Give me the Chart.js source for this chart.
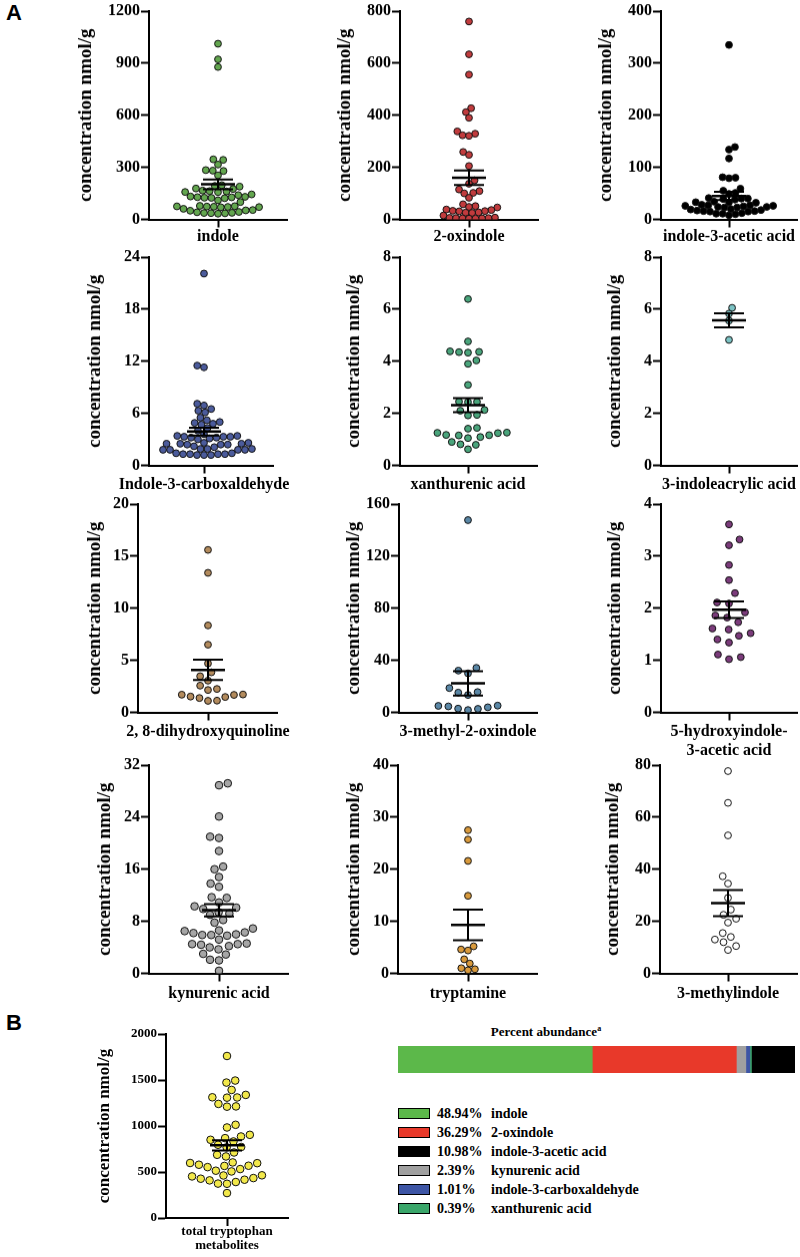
<!DOCTYPE html>
<html>
<head>
<meta charset="utf-8">
<script src="https://cdn.jsdelivr.net/npm/chart.js@4.4.0/dist/chart.umd.min.js"></script>
<style>
  body { margin: 0; width: 800px; height: 1257px; background: #fff; position: relative; overflow: hidden; font-family: "Liberation Serif", serif; }
  canvas { position: absolute; }
  .letter { position: absolute; font: bold 22px "Liberation Sans", sans-serif; }
  #abTitle { position: absolute; left: 398px; width: 296px; top: 1024px; text-align: center; font: bold 13px "Liberation Serif", serif; }
  #abTitle sup { font-size: 8px; }
  .lg { position: absolute; left: 398px; height: 14px; font: bold 14px "Liberation Serif", serif; line-height: 14px; white-space: nowrap; }
  .lg i { display: inline-block; width: 32px; height: 11px; border: 1px solid #000; box-sizing: border-box; vertical-align: -1px; margin-right: 7px; }
  .lg b { display: inline-block; width: 54px; }
</style>
</head>
<body>
<div class="letter" style="left:6px;top:0px">A</div>
<div class="letter" style="left:6px;top:1010px">B</div>
<div id="abTitle">Percent abundance<sup>a</sup></div>

<script>
// ---- data (nmol/g) ----
const names = ['indole', '2-oxindole', 'indole-3-acetic acid', 'Indole-3-carboxaldehyde', 'xanthurenic acid',
  '3-indoleacrylic acid', '2, 8-dihydroxyquinoline', '3-methyl-2-oxindole', ['5-hydroxyindole-', '3-acetic acid'],
  'kynurenic acid', 'tryptamine', '3-methylindole', ['total tryptophan', 'metabolites']];

const indole = [1012, 922, 878, 346, 343, 316, 284, 281, 279, 254, 197, 193, 189, 178, 175, 166, 163, 161, 158, 157,
  144, 140, 132, 130, 128, 127, 125, 124, 122, 110, 100, 78, 76, 75, 74, 73, 72, 71, 70, 61, 54, 52, 50, 43, 41, 38, 37, 36, 35, 33];
const oxindole = [760, 634, 556, 427, 412, 390, 338, 329, 323, 321, 259, 248, 205, 150, 137, 115, 109, 102, 100, 83,
  58, 51, 48, 46, 38, 36, 33, 32, 31, 27, 26, 25, 15, 7, 6, 5, 5, 4, 4, 3, 3];
const indoleAceticAcid = [335, 139, 134, 117, 81, 80, 79, 59, 55, 51, 49, 41, 40, 40, 39, 38, 34, 33, 33, 32, 28, 27, 27,
  26, 26, 25, 24, 24, 23, 23, 20, 19, 18, 17, 16, 16, 15, 15, 12, 11, 11, 10, 8];
const carboxaldehyde = [22.1, 11.5, 11.3, 7.1, 6.9, 6.5, 6.3, 6.1, 5.5, 5.2, 5.0, 4.9, 4.8, 4.7, 4.3, 4.0, 3.6, 3.4, 3.4,
  3.3, 3.3, 3.3, 3.2, 3.2, 3.1, 3.0, 2.6, 2.6, 2.5, 2.5, 2.5, 2.4, 2.4, 2.4, 2.2, 2.1, 1.9, 1.9, 1.9, 1.8, 1.8, 1.8, 1.8,
  1.4, 1.4, 1.3, 1.3, 1.3, 1.3, 1.2, 1.2, 1.2];
const xanthurenic = [6.39, 4.76, 4.38, 4.36, 4.35, 4.33, 4.03, 3.90, 3.09, 2.45, 2.44, 2.43, 2.13, 2.10, 1.94, 1.92, 1.44,
  1.41, 1.26, 1.25, 1.24, 1.17, 1.16, 1.15, 1.09, 1.05, 0.90, 0.81, 0.79, 0.62];
const indoleacrylic = [6.05, 5.83, 5.56, 4.82];
const dihydroxyquinoline = [15.6, 13.4, 8.35, 6.5, 4.7, 3.85, 3.47, 3.05, 2.57, 2.25, 2.15, 1.72, 1.70, 1.68, 1.52, 1.48, 1.38, 1.13, 1.11];
const methylOxindole = [147.7, 34.2, 32.1, 30.0, 18.7, 15.6, 15.2, 13.4, 5.2, 5.0, 4.6, 3.9, 2.9, 2.7, 1.8];
const hydroxyindoleAcetic = [3.61, 3.32, 3.21, 2.83, 2.54, 2.29, 2.11, 2.09, 1.92, 1.86, 1.82, 1.73, 1.61, 1.59, 1.52,
  1.47, 1.40, 1.34, 1.11, 1.06, 1.02];
const kynurenic = [29.2, 28.9, 24.1, 21.0, 20.8, 18.8, 16.4, 16.0, 14.8, 13.8, 13.3, 11.7, 11.6, 10.9, 10.3, 10.1, 9.9, 9.4,
  9.2, 9.0, 8.2, 7.8, 6.9, 6.6, 6.5, 6.3, 6.2, 6.0, 5.9, 5.9, 5.8, 5.2, 4.6, 4.5, 4.5, 4.4, 4.2, 4.0, 3.7, 3.0, 2.9, 2.1, 2.0, 0.4];
const tryptamine = [27.5, 25.7, 21.6, 14.9, 5.2, 4.6, 4.4, 2.7, 1.9, 1.0, 0.8, 0.6];
const methylindole = [77.7, 65.5, 53.0, 37.3, 34.5, 29.0, 24.5, 22.5, 21.0, 19.5, 15.5, 14.0, 13.0, 12.0, 10.5, 9.0];
const totalMetabolites = [1761, 1494, 1472, 1392, 1338, 1312, 1310, 1308, 1240, 1213, 1210, 1013, 984, 904, 886, 868, 850,
  832, 796, 772, 768, 712, 687, 669, 604, 598, 596, 579, 568, 566, 553, 532, 514, 506, 464, 462, 452, 434, 427, 416, 409,
  391, 374, 372, 271];

const series = [indole, oxindole, indoleAceticAcid, carboxaldehyde, xanthurenic, indoleacrylic, dihydroxyquinoline,
  methylOxindole, hydroxyindoleAcetic, kynurenic, tryptamine, methylindole, totalMetabolites];

// mean and SEM bars as drawn in the figure
const means = [202, 160, 45, 3.9, 2.31, 5.57, 4.08, 22.3, 1.97, 9.7, 9.3, 27, 790];
const sems = [28, 28, 8, 0.45, 0.27, 0.27, 0.97, 9.4, 0.16, 0.95, 2.95, 5, 55];

// y axis ticks
const yMax = [1200, 800, 400, 24, 8, 8, 20, 160, 4, 32, 40, 80, 2000];
const yStep = [300, 200, 100, 6, 2, 2, 5, 40, 1, 8, 10, 20, 500];

const pointColors = ['#63a64f', '#c13b3d', '#000000', '#4b5b9c', '#4aa57c', '#7cc3c4', '#b38b5d', '#5a87a6',
  '#7b3b7b', '#a6a6a6', '#d99a3c', '#ffffff', '#f2e84a'];

// percent abundance (panel B)
const abundanceNames = ['indole', '2-oxindole', 'indole-3-acetic acid', 'kynurenic acid', 'indole-3-carboxaldehyde', 'xanthurenic acid'];
const abundancePct = [48.94, 36.29, 10.98, 2.39, 1.01, 0.39];
const abundanceColors = ['#5cb84a', '#e8392a', '#000000', '#a0a0a0', '#3d55a5', '#3aa66a'];
const barOrder = [0, 1, 3, 4, 5, 2];

// ---- layout (pixels on the page) ----
// ax: y axis, cx: category tick, rx: end of x axis, top/bot: y of max / zero, tx: centre of y title, ly: label offset
const geo = [
  {ax: 149, cx: 218, rx: 287, top: 11, bot: 219, tx: 86, ly: 17},
  {ax: 400, cx: 469, rx: 538, top: 11, bot: 219, tx: 345, ly: 17},
  {ax: 661, cx: 729, rx: 797, top: 11, bot: 219, tx: 606, ly: 17},
  {ax: 149, cx: 204, rx: 273, top: 257, bot: 465, tx: 95, ly: 19},
  {ax: 400, cx: 468, rx: 537, top: 257, bot: 465, tx: 354, ly: 19},
  {ax: 661, cx: 729, rx: 797, top: 257, bot: 465, tx: 615, ly: 19},
  {ax: 138, cx: 208, rx: 277, top: 504, bot: 712, tx: 95, ly: 19},
  {ax: 399, cx: 468, rx: 537, top: 504, bot: 712, tx: 354, ly: 19},
  {ax: 661, cx: 729, rx: 797, top: 504, bot: 712, tx: 615, ly: 19},
  {ax: 149, cx: 219, rx: 288, top: 765, bot: 973, tx: 105, ly: 20},
  {ax: 398, cx: 468, rx: 537, top: 765, bot: 973, tx: 354, ly: 20},
  {ax: 660, cx: 728, rx: 797, top: 765, bot: 973, tx: 613, ly: 20},
  {ax: 166, cx: 227, rx: 288, top: 1034, bot: 1218, tx: 105, ly: 14, small: true}
];
const swarmGap = [7, 6.5, 6.5, 7, 9, 6.5, 9, 10, 12, 9, 7, 9, 9];

// simple beeswarm: offsets (px) from the category centre
function swarm(values, pxPerUnit, d) {
  const order = values.map((v, i) => i).sort((a, b) => values[a] - values[b]);
  const placed = [];
  const xs = new Array(values.length);
  order.forEach(i => {
    const yp = values[i] * pxPerUnit;
    const near = placed.filter(p => Math.abs(p.y - yp) < d);
    const cands = [0];
    near.forEach(p => {
      const dx = Math.sqrt(d * d - (p.y - yp) ** 2);
      cands.push(p.x + dx, p.x - dx);
    });
    cands.sort((a, b) => Math.abs(a) - Math.abs(b) || (placed.length % 2 ? b - a : a - b));
    const x = cands.find(c => near.every(p => (p.x - c) ** 2 + (p.y - yp) ** 2 >= d * d - 0.01));
    placed.push({x: x, y: yp});
    xs[i] = x;
  });
  return xs;
}

// mean line with SEM whiskers
const meanSem = {
  id: 'meanSem',
  afterDatasetsDraw(chart, args, opts) {
    const {ctx, scales: {x, y}} = chart;
    const c = x.getPixelForValue(0);
    const m = y.getPixelForValue(opts.mean);
    const hi = y.getPixelForValue(opts.mean + opts.sem);
    const lo = y.getPixelForValue(opts.mean - opts.sem);
    ctx.save();
    ctx.strokeStyle = '#000';
    ctx.lineWidth = 2;
    ctx.beginPath();
    ctx.moveTo(c, hi); ctx.lineTo(c, lo);
    ctx.moveTo(c - 15, hi); ctx.lineTo(c + 15, hi);
    ctx.moveTo(c - 15, lo); ctx.lineTo(c + 15, lo);
    ctx.stroke();
    ctx.lineWidth = 2.5;
    ctx.beginPath();
    ctx.moveTo(c - 17, m); ctx.lineTo(c + 17, m);
    ctx.stroke();
    ctx.restore();
  }
};

// category name under the single x tick (not squeezed to the axis width)
const catLabel = {
  id: 'catLabel',
  afterDraw(chart, args, opts) {
    const {ctx, scales: {x}} = chart;
    const lines = [].concat(opts.text);
    ctx.save();
    ctx.font = 'bold ' + opts.size + 'px "Liberation Serif"';
    ctx.fillStyle = '#000';
    ctx.textAlign = 'center';
    ctx.textBaseline = 'middle';
    lines.forEach((t, k) => ctx.fillText(t, x.getPixelForValue(0), chart.chartArea.bottom + opts.dy + k * opts.lh));
    ctx.restore();
  }
};

const LEFT = 90, PADTOP = 14, PADRIGHT = 40;

series.forEach((vals, i) => {
  const g = geo[i];
  const tickSize = g.small ? 13 : 16;
  const titleSize = g.small ? 17 : 19;
  const labelSize = g.small ? 13 : 16;
  const lh = g.small ? 14 : 19;
  const lines = Array.isArray(names[i]) ? names[i].length : 1;
  const xH = g.ly + lh / 2 + (lines - 1) * lh + 4;
  const plotH = g.bot - g.top;

  const cv = document.createElement('canvas');
  const w = LEFT + (g.rx - g.ax) + PADRIGHT;
  const h = PADTOP + plotH + xH;
  cv.width = w; cv.height = h;
  cv.style.left = (g.ax - LEFT) + 'px';
  cv.style.top = (g.top - PADTOP) + 'px';
  cv.style.width = w + 'px'; cv.style.height = h + 'px';
  document.body.appendChild(cv);

  const xs = swarm(vals, plotH / yMax[i], swarmGap[i]);
  const pts = vals.map((v, k) => ({x: xs[k], y: v}));

  new Chart(cv, {
    type: 'scatter',
    data: {
      datasets: [{
        data: pts,
        backgroundColor: pointColors[i],
        borderColor: '#111',
        borderWidth: 1,
        pointRadius: i === 9 || i === 12 ? 3.8 : 3.4
      }]
    },
    options: {
      responsive: false,
      animation: false,
      events: [],
      layout: {padding: {top: PADTOP, right: PADRIGHT, left: 0, bottom: 0}},
      plugins: {
        legend: {display: false},
        tooltip: {enabled: false},
        meanSem: {mean: means[i], sem: sems[i]},
        catLabel: {text: names[i], size: labelSize, dy: g.ly, lh: lh}
      },
      scales: {
        x: {
          type: 'linear',
          min: g.ax - g.cx,
          max: g.rx - g.cx,
          afterBuildTicks: s => { s.ticks = [{value: 0}]; },
          afterFit: s => { s.height = xH; },
          ticks: {display: false},
          grid: {drawOnChartArea: false, drawTicks: true, tickLength: 8, tickWidth: 2, tickColor: '#000'},
          border: {color: '#000', width: 2}
        },
        y: {
          min: 0,
          max: yMax[i],
          afterFit: s => { s.width = LEFT; },
          ticks: {
            stepSize: yStep[i], color: '#000', padding: 1,
            callback: v => String(v),
            font: {family: 'Liberation Serif', weight: 'bold', size: tickSize}
          },
          grid: {drawOnChartArea: false, drawTicks: true, tickLength: 8, tickWidth: 2, tickColor: '#000'},
          border: {color: '#000', width: 2},
          title: {
            display: true, text: 'concentration nmol/g', color: '#000',
            padding: {top: g.tx - (g.ax - LEFT) - titleSize * 0.6, bottom: 0},
            font: {family: 'Liberation Serif', weight: 'bold', size: titleSize}
          }
        }
      }
    },
    plugins: [meanSem, catLabel]
  });
});

// ---- percent abundance bar ----
const bar = document.createElement('canvas');
bar.width = 397; bar.height = 27;
bar.style.left = '398px'; bar.style.top = '1046px';
document.body.appendChild(bar);
new Chart(bar, {
  type: 'bar',
  data: {
    labels: [''],
    datasets: barOrder.map(k => ({
      label: abundanceNames[k],
      data: [abundancePct[k]],
      backgroundColor: abundanceColors[k],
      borderWidth: 0,
      barPercentage: 1,
      categoryPercentage: 1
    }))
  },
  options: {
    indexAxis: 'y',
    responsive: false,
    animation: false,
    events: [],
    layout: {padding: 0},
    plugins: {legend: {display: false}, tooltip: {enabled: false}},
    scales: {
      x: {stacked: true, min: 0, max: 100, display: false},
      y: {stacked: true, display: false}
    }
  }
});

// legend rows
abundanceNames.forEach((n, k) => {
  const row = document.createElement('div');
  row.className = 'lg';
  row.style.top = (1107 + k * 19) + 'px';
  row.innerHTML = '<i style="background:' + abundanceColors[k] + '"></i><b>' + abundancePct[k].toFixed(2) + '%</b>' + n;
  document.body.appendChild(row);
});
</script>
</body>
</html>
